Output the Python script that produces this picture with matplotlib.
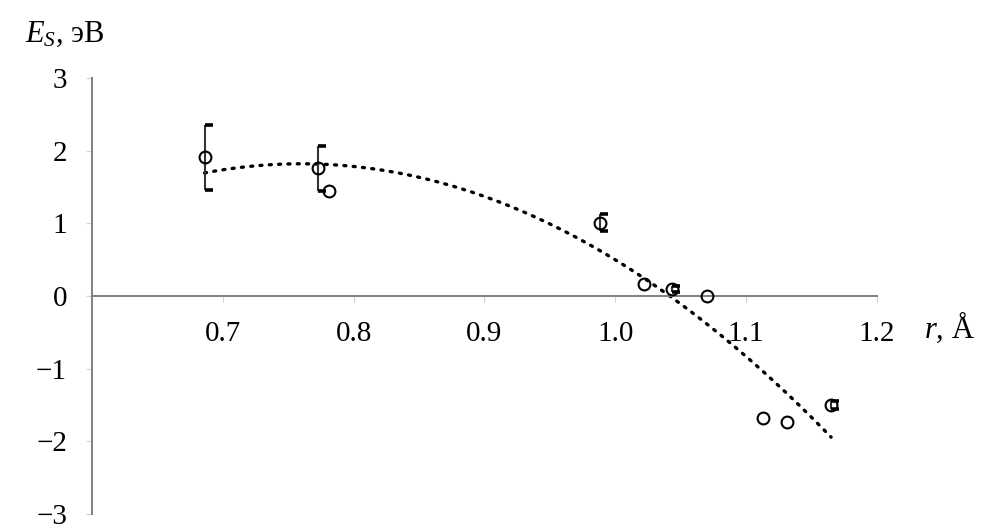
import numpy as np
import matplotlib
matplotlib.use("Agg")
from matplotlib import pyplot as plt
from matplotlib.path import Path

plt.rcParams['font.family'] = ['Liberation Serif', 'DejaVu Serif']
plt.rcParams['mathtext.fontset'] = 'custom'
plt.rcParams['mathtext.rm'] = 'Liberation Serif'
plt.rcParams['mathtext.it'] = 'Liberation Serif:italic'

# data
r_vals = [0.686, 0.773, 0.781, 0.988, 1.022, 1.043, 1.070, 1.113, 1.131, 1.165]
es_vals = [1.91, 1.76, 1.44, 1.01, 0.165, 0.096, 0.0, -1.68, -1.73, -1.50]
err_vals = [0.45, 0.31, 0.0, 0.12, 0.0, 0.04, 0.0, 0.0, 0.0, 0.05]

x_ticks = [0.7, 0.8, 0.9, 1.0, 1.1, 1.2]
x_labels = ['0.7', '0.8', '0.9', '1.0', '1.1', '1.2']
y_ticks = [-3, -2, -1, 0, 1, 2, 3]

r = np.array(r_vals)
es = np.array(es_vals)
err = np.array(err_vals)

fig = plt.figure(figsize=(9.96, 5.32), dpi=100)
ax = fig.add_axes([0.0924, 0.0338, 0.788, 0.8196])

# quadratic trend line (like the spreadsheet trendline)
coef = np.polyfit(r, es, 2)
xs = np.linspace(r.min(), r.max(), 200)
ax.plot(xs, np.polyval(coef, xs), color='black', linestyle=(0, (0.6, 2.2)),
        linewidth=2.4, dash_capstyle='round', zorder=2)

# error bars: vertical line + caps pointing right
has_err = err > 0
ax.errorbar(r[has_err], es[has_err], yerr=err[has_err], fmt='none',
            ecolor='#333333', elinewidth=1.5, capsize=0, zorder=3)
cap = Path([[0, 0], [1, 0]])
for sgn in (1, -1):
    ax.plot(r[has_err], es[has_err] + sgn * err[has_err], linestyle='none',
            marker=cap, markersize=12, markeredgewidth=2.6, color='black', zorder=3)

ax.plot(r, es, linestyle='none', marker='o', markersize=8.5,
        markerfacecolor='none', markeredgecolor='black', markeredgewidth=1.5, zorder=4)

ax.set_xlim(0.6, 1.2)
ax.set_ylim(-3, 3)
ax.set_xticks(x_ticks)
ax.set_xticklabels(x_labels)
ax.set_yticks(y_ticks)

for side in ('top', 'right'):
    ax.spines[side].set_visible(False)
ax.spines['bottom'].set_position(('data', 0))
for side in ('left', 'bottom'):
    ax.spines[side].set_color('#808080')
    ax.spines[side].set_linewidth(1.4)

ax.tick_params(axis='both', direction='out', length=4, width=0.8,
               color='#d0d0d0', labelsize=21)
ax.tick_params(axis='x', pad=14)
ax.tick_params(axis='y', pad=14)

fig.text(0.025, 0.935, r'$E_S$, эВ', fontsize=22, ha='left', va='center')
fig.text(0.928, 0.385, r'$r$, Å', fontsize=22, ha='left', va='center')

fig.savefig('out.png', dpi=100)
